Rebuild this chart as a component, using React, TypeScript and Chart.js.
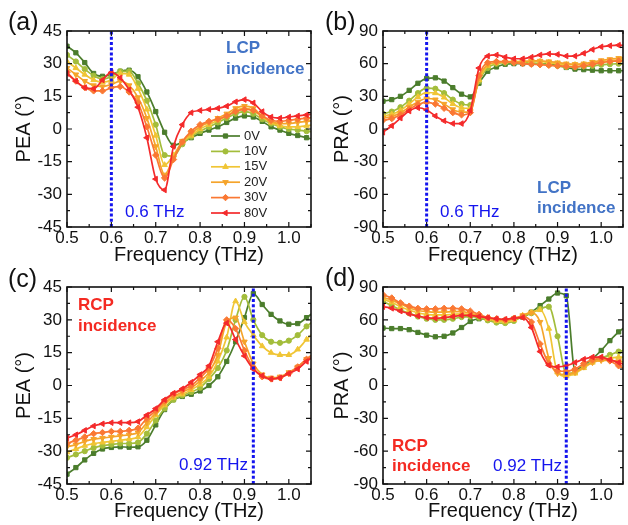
import React, { useEffect, useRef } from 'react';
import { Chart, registerables } from 'chart.js';
import { drawPoint } from 'chart.js/helpers';

Chart.register(...registerables);

const FONT = "'Liberation Sans', Arial, Helvetica, sans-serif";

// ---------- data ----------
const freq = [0.5, 0.52, 0.54, 0.56, 0.58, 0.6, 0.62, 0.64, 0.66, 0.68, 0.7, 0.72, 0.74, 0.76, 0.78, 0.8, 0.82, 0.84, 0.86, 0.88, 0.9, 0.92, 0.94, 0.96, 0.98, 1.0, 1.02, 1.04, 1.06];
const voltages = ['0V', '10V', '15V', '20V', '30V', '80V'];

// (a) PEA, LCP incidence
const peaLcp0V = [38, 35, 30.5, 25.5, 24.2, 25, 26.5, 27, 24, 17, 8, -1.5, -7.5, -6, -4, -2, -0.5, 1, 3, 5, 6, 5.5, 3.5, 1, -0.5, -2, -3, -4, -5];
const peaLcp10V = [34, 31, 27.5, 24.5, 23, 24, 26.5, 26.5, 21, 13, 2, -12, -12.5, -7, -3.5, -1, 1, 3, 5, 7, 8, 7, 4.5, 2.5, 1, 0, -0.5, -1, -1.5];
const peaLcp15V = [31, 28, 25, 22.5, 21.5, 22.5, 25.5, 25, 18.5, 9, -3, -16.5, -12, -6, -3, 0, 2, 4, 6, 8.5, 9.5, 8.5, 5.5, 3, 1.5, 1, 1, 1.5, 2];
const peaLcp20V = [28, 25, 22, 20, 19.5, 20.5, 22, 20, 14.5, 5, -8, -21, -13, -5.5, -2, 1, 3, 5, 7, 9.5, 10.5, 9.5, 6, 3.5, 2.5, 2.5, 3, 3.5, 4];
const peaLcp30V = [26, 22, 19, 17.5, 17.5, 19, 19.5, 17, 12, 1, -12, -22.5, -14, -6, -1, 2, 3.5, 4.5, 6, 8, 9, 8.5, 6, 4, 3.5, 4, 4.5, 5, 5.5];
const peaLcp80V = [25.5, 22, 19, 18.5, 22.5, 26, 23.5, 18, 10, -4, -23, -28, -8, 2, 7.5, 8.5, 9, 9.5, 10.5, 12.5, 13.5, 12, 8, 5.5, 5, 5.5, 6, 6.5, 7];

// (b) PRA, LCP incidence
const praLcp0V = [25.5, 27, 30, 35.5, 42, 46.5, 47, 44, 38, 32, 29.5, 42, 53, 57, 59.5, 60, 60, 60, 60, 59.5, 58.5, 56.5, 55, 54.5, 54, 53.5, 53.5, 53.5, 53.5];
const praLcp10V = [14, 16, 20, 26, 33, 37.5, 37, 33, 27, 23, 22, 44, 56, 60, 61, 61, 61, 60.5, 60, 59, 58, 57, 57, 57.5, 58, 59, 59.5, 60, 60];
const praLcp15V = [12, 13.5, 17, 23, 29.5, 33.5, 33, 29, 23, 19.5, 19, 45, 58, 61, 62, 62, 62, 62, 62, 61, 60, 59, 59, 59.5, 60.5, 61.5, 62.5, 63.5, 64];
const praLcp20V = [10, 11.5, 15, 20, 25, 28, 27, 23, 18, 15.5, 16, 47, 59, 61, 61.5, 61.5, 62, 62.5, 62.5, 62, 61, 60, 59.5, 60, 61.5, 63, 64, 65, 65.5];
const praLcp30V = [8, 9.5, 13, 18, 22.5, 24.5, 23, 19, 15, 13, 15, 49, 61, 62, 62, 61, 60, 59.5, 59, 58.5, 58, 57.5, 57, 58, 59.5, 61, 62, 62.5, 62.5];
const praLcp80V = [-3, 3, 10, 16.5, 19.5, 17.5, 12, 7.5, 5, 5, 17, 56, 67, 68, 66, 64.5, 64.5, 66, 68, 69, 68.5, 67, 67, 69.5, 73, 75.5, 76.5, 77, 76.5];

// (c) PEA, RCP incidence
const peaRcp0V = [-40.5, -37.5, -34, -31, -29, -28.3, -28, -28.2, -28, -25, -18, -11, -6.5, -5, -4, -2.5, 0, 4, 11, 20, 31, 42, 37, 32.5, 29.5, 28, 28.3, 31, 34];
const peaRcp10V = [-33, -31.5, -30, -28.5, -27.5, -27, -26.5, -26.5, -26, -22, -16, -10.5, -6.5, -4.5, -3, -1, 3, 8, 16, 30, 40.5, 30, 23, 20, 19.5, 20.5, 23, 27, 30];
const peaRcp15V = [-30.5, -29, -27.5, -26.5, -26, -25.5, -25, -24.5, -23.5, -19, -13.5, -9, -5.5, -4, -2, 0.5, 4, 11, 22, 38.5, 29, 23, 18, 15, 14, 14, 16.5, 21, 25];
const peaRcp20V = [-28, -27, -25.5, -24.5, -24, -23.5, -23, -22.5, -21.5, -17, -12.5, -8, -5, -3, -1, 2, 6, 14, 29, 31, 20, 10, 5, 3.5, 4, 6, 8.5, 12, 15];
const peaRcp30V = [-26.5, -25, -23.5, -22, -21.5, -21, -21, -20.5, -19.5, -15, -11.5, -7, -4, -2, 0, 3.5, 8, 17, 30, 26, 16, 8, 4, 3, 3.5, 5.5, 8.5, 12, 15];
const peaRcp80V = [-24, -22.5, -20.5, -18.5, -17.5, -17, -17, -17, -16.5, -13.5, -10.5, -6.5, -3.5, -1.5, 1.5, 5, 9, 20, 28.5, 21, 13.5, 7.5, 4.5, 3, 3.5, 5.5, 7.5, 11, 14];

// (d) PRA, RCP incidence
const praRcp0V = [52.5, 52, 52, 51, 48.5, 46, 44.5, 45, 48, 53, 58.5, 61, 60.5, 59, 59.5, 61, 62.5, 67, 73, 79, 84.5, 82, 14, 18.5, 24.5, 32, 41, 49, 55];
const praRcp10V = [77, 73, 69, 66, 63, 61, 60, 60, 61, 62.5, 63, 62, 59.5, 57.5, 57, 59, 63, 66, 70, 72, 45, 11, 12, 17, 22, 25, 28, 31, 32.5];
const praRcp15V = [79, 76, 72, 69, 66.5, 65, 64.5, 64.5, 65, 65.5, 65, 63.5, 61, 59, 58.5, 60, 64, 67, 69, 52, 12, 8.5, 11, 16, 21, 23.5, 25, 26, 26];
const praRcp20V = [80.5, 78, 74.5, 71, 68.5, 67.5, 67, 67, 67.5, 67.5, 66, 64, 61.5, 60, 59.5, 61, 64, 66.5, 58, 25, 11, 10, 12, 17, 21, 23, 23, 22, 21];
const praRcp30V = [83, 80, 75.5, 72.5, 70.5, 70, 70, 70.5, 70.5, 70, 68, 65, 62, 61, 60, 61.5, 63, 58, 38, 20, 13.5, 13, 15, 20, 23.5, 25, 22.5, 18, 14];
const praRcp80V = [72, 70.5, 68, 65.5, 63.5, 62, 61.5, 62, 63, 64, 64, 63, 62, 61, 60.5, 61.5, 62, 53, 31, 18.5, 17, 18, 21, 24, 26, 26, 23.5, 21, 18];

const xTickValues = [0.5, 0.6, 0.7, 0.8, 0.9, 1.0];
const peaTickValues = [-45, -30, -15, 0, 15, 30, 45];
const praTickValues = [-90, -60, -30, 0, 30, 60, 90];
const lcpMarkerFreq = 0.6;
const rcpMarkerFreq = 0.92;

// ---------- styles ----------
const seriesColors = ['#4b7d2c', '#a3bd3b', '#f0c535', '#f5a42b', '#fa7833', '#f42a2b'];
const seriesPointStyles = ['rect', 'circle', 'triangle', 'triangle', 'rectRot', 'triangle'];
const seriesRotations = [0, 0, 0, 180, 0, -90];
const seriesRadii = [3, 2.6, 3.2, 3.2, 3.2, 3.2];

type Note = { text: string; x: number; y: number; color: string; bold: boolean };
type Panel = {
  key: string;
  left: number; top: number; width: number; height: number;
  padTop: number; padRight: number; xAxisHeight: number; yAxisWidth: number;
  yTitlePad: number; xTitlePad: number;
  yTitle: string; yMin: number; yMax: number; yTicks: number[];
  series: number[][]; markerFreq: number;
  label: string; labelX: number; labelY: number;
  notes: Note[]; legend: boolean;
};

const LCP_BLUE = '#4273c6';
const RCP_RED = '#f42a22';
const LINE_BLUE = '#1414ee';

const panels: Panel[] = [
  {
    key: 'a', left: 0, top: 0, width: 316, height: 268,
    padTop: 31, padRight: 4, xAxisHeight: 41, yAxisWidth: 67, yTitlePad: 12.5, xTitlePad: 1,
    yTitle: 'PEA (°)', yMin: -45, yMax: 45, yTicks: peaTickValues,
    series: [peaLcp0V, peaLcp10V, peaLcp15V, peaLcp20V, peaLcp30V, peaLcp80V], markerFreq: lcpMarkerFreq,
    label: '(a)', labelX: 8, labelY: 30,
    notes: [
      { text: 'LCP', x: 226, y: 48, color: LCP_BLUE, bold: true },
      { text: 'incidence', x: 226, y: 69, color: LCP_BLUE, bold: true },
      { text: '0.6 THz', x: 125, y: 212, color: LINE_BLUE, bold: false },
    ],
    legend: true,
  },
  {
    key: 'b', left: 316, top: 0, width: 312, height: 268,
    padTop: 31, padRight: 1, xAxisHeight: 41, yAxisWidth: 67, yTitlePad: 14.5, xTitlePad: 1,
    yTitle: 'PRA (°)', yMin: -90, yMax: 90, yTicks: praTickValues,
    series: [praLcp0V, praLcp10V, praLcp15V, praLcp20V, praLcp30V, praLcp80V], markerFreq: lcpMarkerFreq,
    label: '(b)', labelX: 9, labelY: 30,
    notes: [
      { text: 'LCP', x: 221, y: 188, color: LCP_BLUE, bold: true },
      { text: 'incidence', x: 221, y: 208, color: LCP_BLUE, bold: true },
      { text: '0.6 THz', x: 124, y: 212, color: LINE_BLUE, bold: false },
    ],
    legend: false,
  },
  {
    key: 'c', left: 0, top: 256, width: 316, height: 269,
    padTop: 31, padRight: 4, xAxisHeight: 41, yAxisWidth: 67, yTitlePad: 12.5, xTitlePad: 2,
    yTitle: 'PEA (°)', yMin: -45, yMax: 45, yTicks: peaTickValues,
    series: [peaRcp0V, peaRcp10V, peaRcp15V, peaRcp20V, peaRcp30V, peaRcp80V], markerFreq: rcpMarkerFreq,
    label: '(c)', labelX: 8, labelY: 30.5,
    notes: [
      { text: 'RCP', x: 78, y: 49, color: RCP_RED, bold: true },
      { text: 'incidence', x: 78, y: 70.5, color: RCP_RED, bold: true },
      { text: '0.92 THz', x: 179, y: 209.5, color: LINE_BLUE, bold: false },
    ],
    legend: false,
  },
  {
    key: 'd', left: 316, top: 256, width: 312, height: 269,
    padTop: 31, padRight: 1, xAxisHeight: 41, yAxisWidth: 67, yTitlePad: 14.5, xTitlePad: 2,
    yTitle: 'PRA (°)', yMin: -90, yMax: 90, yTicks: praTickValues,
    series: [praRcp0V, praRcp10V, praRcp15V, praRcp20V, praRcp30V, praRcp80V], markerFreq: rcpMarkerFreq,
    label: '(d)', labelX: 9, labelY: 29.5,
    notes: [
      { text: 'RCP', x: 76, y: 190.5, color: RCP_RED, bold: true },
      { text: 'incidence', x: 76, y: 210.5, color: RCP_RED, bold: true },
      { text: '0.92 THz', x: 177, y: 210, color: LINE_BLUE, bold: false },
    ],
    legend: false,
  },
];

function drawDeco(chart: any, p: Panel) {
  const { ctx, chartArea } = chart;
  const { left, right, top, bottom } = chartArea;
  const xs = chart.scales.x;
  const ys = chart.scales.y;
  ctx.save();
  // inward ticks on all four sides
  ctx.strokeStyle = '#111';
  ctx.lineWidth = 1.2;
  ctx.beginPath();
  for (let i = 0; i <= 11; i++) {
    const v = 0.5 + i * 0.05;
    const px = xs.getPixelForValue(v);
    const len = i % 2 === 0 ? 5 : 3;
    ctx.moveTo(px, bottom); ctx.lineTo(px, bottom - len);
    ctx.moveTo(px, top); ctx.lineTo(px, top + len);
  }
  const half = (p.yTicks[1] - p.yTicks[0]) / 2;
  const n = Math.round((p.yMax - p.yMin) / half);
  for (let i = 0; i <= n; i++) {
    const v = p.yMin + i * half;
    const py = ys.getPixelForValue(v);
    const len = i % 2 === 0 ? 5 : 3;
    ctx.moveTo(left, py); ctx.lineTo(left + len, py);
    ctx.moveTo(right, py); ctx.lineTo(right - len, py);
  }
  ctx.stroke();
  // frame
  ctx.lineWidth = 1.6;
  ctx.strokeRect(left, top, right - left, bottom - top);

  // notes
  ctx.textAlign = 'left';
  ctx.textBaseline = 'middle';
  for (const nt of p.notes) {
    ctx.font = `${nt.bold ? 'bold ' : ''}17px ${FONT}`;
    ctx.fillStyle = nt.color;
    ctx.fillText(nt.text, nt.x, nt.y);
  }
  // panel label
  ctx.font = `25px ${FONT}`;
  ctx.fillStyle = '#111';
  ctx.textBaseline = 'alphabetic';
  ctx.fillText(p.label, p.labelX, p.labelY);

  // legend
  if (p.legend) {
    voltages.forEach((v, i) => {
      const y = 136 + i * 15.4;
      ctx.strokeStyle = seriesColors[i];
      ctx.lineWidth = 1.7;
      ctx.beginPath();
      ctx.moveTo(211, y);
      ctx.lineTo(240, y);
      ctx.stroke();
      ctx.fillStyle = seriesColors[i];
      ctx.lineWidth = 1;
      drawPoint(ctx, { pointStyle: seriesPointStyles[i], rotation: seriesRotations[i], radius: seriesRadii[i], borderWidth: 1 } as any, 225.5, y);
      ctx.fillStyle = '#222';
      ctx.font = `13px ${FONT}`;
      ctx.textBaseline = 'middle';
      ctx.fillText(v, 244, y);
    });
  }
  ctx.restore();
}

function buildConfig(p: Panel): any {
  const datasets: any[] = [
    {
      label: 'marker',
      data: [{ x: p.markerFreq, y: p.yMin }, { x: p.markerFreq, y: p.yMax }],
      borderColor: LINE_BLUE,
      borderWidth: 3,
      borderDash: [3, 2.2],
      pointRadius: 0,
      order: 0,
    },
  ];
  p.series.forEach((vals, i) => {
    datasets.push({
      label: voltages[i],
      data: freq.map((f, j) => ({ x: f, y: vals[j] })),
      borderColor: seriesColors[i],
      backgroundColor: seriesColors[i],
      borderWidth: 1.7,
      pointStyle: seriesPointStyles[i],
      pointRotation: seriesRotations[i],
      pointRadius: seriesRadii[i],
      pointBorderWidth: 1,
      pointBackgroundColor: seriesColors[i],
      pointBorderColor: seriesColors[i],
      cubicInterpolationMode: 'monotone',
      order: 6 - i,
    });
  });

  const decoPlugin = {
    id: 'deco' + p.key,
    afterDraw(chart: any) {
      drawDeco(chart, p);
    },
  };

  return {
    type: 'line',
    data: { datasets },
    plugins: [decoPlugin],
    options: {
      animation: false,
      responsive: false,
      maintainAspectRatio: false,
      devicePixelRatio: 1,
      events: [],
      layout: { padding: { left: 0, top: p.padTop, right: p.padRight, bottom: 0 } },
      plugins: { legend: { display: false }, tooltip: { enabled: false } },
      scales: {
        x: {
          type: 'linear',
          position: 'bottom',
          min: 0.5,
          max: 1.05,
          afterBuildTicks: (s: any) => { s.ticks = xTickValues.map((v) => ({ value: v })); },
          afterFit: (s: any) => { s.height = p.xAxisHeight; },
          grid: { display: false, drawTicks: false },
          border: { display: false },
          ticks: {
            padding: 1,
            autoSkip: false,
            maxRotation: 0,
            color: '#111',
            font: { family: FONT, size: 17 },
            callback: (v: any) => Number(v).toFixed(1),
          },
          title: {
            display: true,
            text: 'Frequency (THz)',
            color: '#111',
            font: { family: FONT, size: 20 },
            padding: { top: 0, bottom: p.xTitlePad },
          },
        },
        y: {
          type: 'linear',
          position: 'left',
          min: p.yMin,
          max: p.yMax,
          afterBuildTicks: (s: any) => { s.ticks = p.yTicks.map((v) => ({ value: v })); },
          afterFit: (s: any) => { s.width = p.yAxisWidth; },
          grid: { display: false, drawTicks: false },
          border: { display: false },
          ticks: {
            padding: 5,
            color: '#111',
            font: { family: FONT, size: 17 },
            callback: (v: any) => String(v),
          },
          title: {
            display: true,
            text: p.yTitle,
            color: '#111',
            font: { family: FONT, size: 20 },
            padding: { top: p.yTitlePad, bottom: 0 },
          },
        },
      },
    },
  };
}

function PanelChart({ panel }: { panel: Panel }) {
  const ref = useRef<HTMLCanvasElement>(null);
  useEffect(() => {
    if (!ref.current) return;
    const chart = new Chart(ref.current, buildConfig(panel));
    return () => chart.destroy();
  }, [panel]);
  return (
    <canvas
      ref={ref}
      width={panel.width}
      height={panel.height}
      style={{ position: 'absolute', left: panel.left, top: panel.top, width: panel.width, height: panel.height }}
    />
  );
}

export default function App() {
  return (
    <div style={{ position: 'fixed', left: 0, top: 0, width: 628, height: 525, background: '#fff', overflow: 'hidden' }}>
      {panels.map((p) => (
        <PanelChart key={p.key} panel={p} />
      ))}
    </div>
  );
}
